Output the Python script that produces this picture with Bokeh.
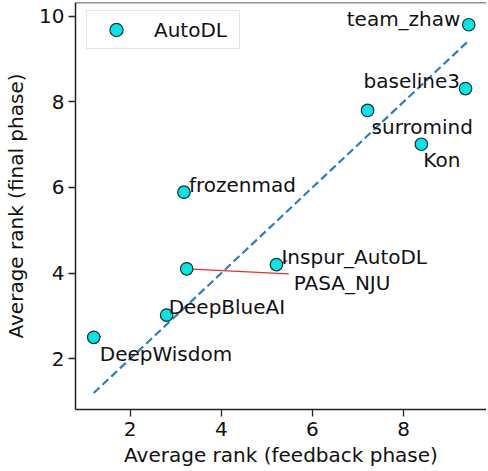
from bokeh.plotting import figure
from bokeh.models import Range1d, Span, Legend, LegendItem, ColumnDataSource, FixedTicker
from bokeh.embed import file_html
from bokeh.resources import INLINE
from bokeh.core.properties import value

# ---- data ----
teams = ["team_zhaw", "baseline3", "surromind", "Kon", "frozenmad",
         "Inspur_AutoDL", "PASA_NJU", "DeepBlueAI", "DeepWisdom"]
feedback_rank = [9.43, 9.36, 7.21, 8.39, 3.18, 5.21, 3.24, 2.80, 1.20]
final_rank = [9.80, 8.31, 7.80, 7.01, 5.89, 4.20, 4.10, 3.02, 2.50]
x_ticks = [2, 4, 6, 8]
y_ticks = [2, 4, 6, 8, 10]

# ---- label placement (screen px offsets from point, like adjustText) ----
label_dx = [-122, -102, 4, 2, 5, 5, 107, 2, 6]
label_dy = [-6, -8, 17, 16, -7, -8, 14, -8, 17]
# connector arrows (team index, px dx, px dy)
connectors = [(6, 102, 5), (5, 11, -4), (8, 7, -1)]

FONT = "DejaVu Sans"
FS = "20px"
W, H = 486, 469
BL, BR, BT, BB = 75, 0, 2, 60
X0, X1 = 0.80, 9.82
Y0, Y1 = 0.815, 10.32

p = figure(width=W, height=H, output_backend="svg", toolbar_location=None,
           x_range=Range1d(X0, X1), y_range=Range1d(Y0, Y1),
           min_border_left=BL, min_border_right=BR, min_border_top=BT,
           min_border_bottom=BB)
p.background_fill_color = "white"
p.border_fill_color = "white"
p.outline_line_color = None
p.xgrid.visible = False
p.ygrid.visible = False

ppx = (W - BL - BR) / (X1 - X0)
ppy = (H - BT - BB) / (Y1 - Y0)

# diagonal reference line y = x
lo, hi = min(feedback_rank), max(feedback_rank)
p.line([lo, hi], [lo, hi], line_color="#2f7fb6", line_width=2.2, line_dash="8 4")

# connectors
cx0 = [feedback_rank[i] for i, _, _ in connectors]
cy0 = [final_rank[i] for i, _, _ in connectors]
cx1 = [feedback_rank[i] + dx / ppx for i, dx, _ in connectors]
cy1 = [final_rank[i] - dy / ppy for i, _, dy in connectors]
p.segment(cx0, cy0, cx1, cy1, line_color="#e8302c", line_width=1.3)

src = ColumnDataSource(dict(x=feedback_rank, y=final_rank, name=teams,
                            dx=label_dx, dy=label_dy))
sc = p.scatter("x", "y", source=src, size=12.5, fill_color="#00e5e5",
               line_color="#1c2e2e", line_width=1.2)

p.text("x", "y", text="name", source=src, x_offset="dx", y_offset="dy",
       text_font=value(FONT), text_font_size=FS, text_color="#111111",
       text_baseline="alphabetic", text_align="left")

# top frame line
p.add_layout(Span(location=Y1, dimension="width", line_color="#222222",
                  line_width=1.5))

for ax in (p.xaxis[0], p.yaxis[0]):
    ax.axis_line_color = "#222222"
    ax.axis_line_width = 1.5
    ax.major_tick_line_color = "#222222"
    ax.major_tick_line_width = 1.3
    ax.major_tick_out = 7
    ax.major_tick_in = 0
    ax.minor_tick_line_color = None
    ax.major_label_text_font = FONT
    ax.major_label_text_font_size = FS
    ax.major_label_text_color = "#111111"
    ax.axis_label_text_font = FONT
    ax.axis_label_text_font_size = FS
    ax.axis_label_text_font_style = "normal"
    ax.axis_label_text_color = "#111111"
    ax.major_label_standoff = 4

p.xaxis[0].ticker = FixedTicker(ticks=x_ticks)
p.yaxis[0].ticker = FixedTicker(ticks=y_ticks)
p.xaxis[0].axis_label = "Average rank (feedback phase)"
p.yaxis[0].axis_label = "Average rank (final phase)"
p.xaxis[0].major_label_standoff = 5
p.xaxis[0].axis_label_standoff = 4
p.yaxis[0].axis_label_standoff = 8

legend = Legend(items=[LegendItem(label="AutoDL", renderers=[sc])],
                location=(11, 360))
legend.label_text_font = FONT
legend.label_text_font_size = FS
legend.label_text_color = "#111111"
legend.glyph_width = 54
legend.glyph_height = 33
legend.label_height = 20
legend.label_width = 83
legend.label_standoff = 11
legend.padding = 2
legend.margin = 0
legend.border_line_color = "#cccccc"
legend.border_line_width = 1
legend.background_fill_alpha = 0.85
p.add_layout(legend)

open("out.html", "w").write(file_html(p, INLINE))
